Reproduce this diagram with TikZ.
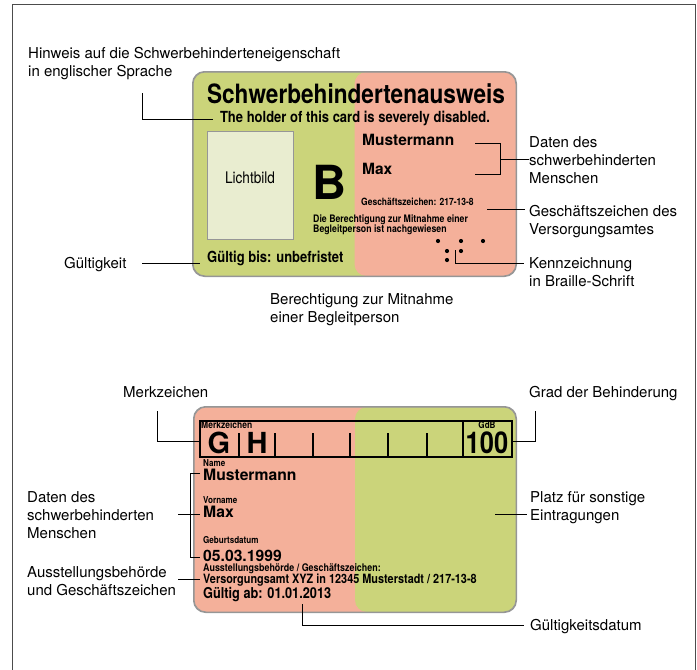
\documentclass[tikz,border=0pt]{standalone}
\usepackage{fontspec}
\setmainfont{TeX Gyre Heros}
\newfontfamily\cnd[FakeStretch=0.85]{TeX Gyre Heros}
\definecolor{cgreen}{RGB}{203,212,122}
\definecolor{cred}{RGB}{244,176,154}
\definecolor{cphoto}{RGB}{233,237,208}
\definecolor{cborder}{RGB}{150,150,150}
\begin{document}
\begin{tikzpicture}[x=1pt,y=-1pt,
  lbl/.style={font=\fontsize{15}{18}\selectfont, inner sep=0pt, align=left},
  ct/.style={inner sep=0pt, anchor=base west},
  conn/.style={draw=black, line width=1pt},
  card/.style={draw=cborder, line width=1pt, rounded corners=12pt, inner sep=0pt},
  frame/.style={draw=black!70, line width=1pt}]
\useasboundingbox (0,0) rectangle (697,670);
% outer frame
\coordinate (fbl) at (12,670);
\coordinate (ftl) at (12,4);
\coordinate (ftr) at (695,4);
\coordinate (fbr) at (695,670);
\draw[frame] (fbl) -- (ftl) -- (ftr) -- (fbr);

% ================= card 1 =================
\node[card, fill=cgreen, minimum width=323pt, minimum height=204pt,
  path picture={\fill[cred] (path picture bounding box.north) rectangle (path picture bounding box.south east);}]
  (card1) at (354.5,174) {};
\draw[card] (card1.north west) rectangle (card1.south east);
\node[ct, anchor=base, font=\cnd\bfseries\fontsize{26.6}{30}\selectfont] (title) at (356,103) {Schwerbehindertenausweis};
\node[ct, anchor=base, font=\cnd\bfseries\fontsize{15.3}{17}\selectfont] (holder) at (355,122) {The holder of this card is severely disabled.};
\node[draw=cborder, line width=1pt, fill=cphoto, minimum width=86pt, minimum height=108pt, inner sep=0pt] (photo) at (250,185) {};
\node[ct, anchor=base, font=\cnd\fontsize{16}{18}\selectfont] (photolbl) at (250,183) {Lichtbild};
\node[ct, font=\bfseries\fontsize{47}{50}\selectfont] (bigB) at (312,199) {B};
\node[ct, font=\bfseries\fontsize{15.5}{18}\selectfont] (name1) at (362,145) {Mustermann};
\node[ct, font=\bfseries\fontsize{15.5}{18}\selectfont] (vname1) at (362,174) {Max};
\node[ct, font=\cnd\bfseries\fontsize{10}{12}\selectfont] (gz1) at (361,205) {Geschäftszeichen: 217-13-8};
\node[inner sep=0pt, anchor=north west, align=left, font=\cnd\bfseries\fontsize{10.3}{10}\selectfont] (berecht) at (313,215) {Die Berechtigung zur Mitnahme einer\\Begleitperson ist nachgewiesen};
\node[ct, font=\cnd\bfseries\fontsize{15.3}{18}\selectfont] (gueltig1) at (207,262) {Gültig bis: unbefristet};
% braille dots
\foreach \p in {(438,241),(461,241),(483,241),(447,251),(461,251),(447,260)}
  \fill \p circle (2.1);

% labels card 1
\node[lbl, anchor=north west] (hinweis) at (28,47) {Hinweis auf die Schwerbehinderteneigenschaft\\in englischer Sprache};
\node[lbl, anchor=north west] (daten1) at (529,136) {Daten des\\schwerbehinderten\\Menschen};
\node[lbl, anchor=north west] (gzlbl) at (529,205) {Geschäftszeichen des\\Versorgungsamtes};
\node[lbl, anchor=north west] (braille) at (529,257) {Kennzeichnung\\in Braille-Schrift};
\node[lbl, anchor=base west] (gkeit) at (64,268) {Gültigkeit};
\node[lbl, anchor=north west] (begl) at (270,293) {Berechtigung zur Mitnahme\\einer Begleitperson};

% connectors card 1
\coordinate (h1) at (142,93);
\coordinate (h2) at (213,119);
\draw[conn] (h1) |- (h2);
\coordinate (b1) at (475,143);
\coordinate (b2) at (500,143);
\coordinate (b3) at (500,174);
\coordinate (b4) at (475,174);
\draw[conn] (b1) -- (b2) -- (b3) -- (b4);
\coordinate (bm) at (500,159);
\draw[conn] (bm) -- (bm -| daten1.west);
\coordinate (g1) at (487,209);
\draw[conn] (g1) -- ([xshift=-4pt]g1 -| gzlbl.west);
\coordinate (br) at (455,250);
\coordinate (br2) at (524,263);
\draw[conn] (br) |- (br2);
\coordinate (gk1) at (142,263);
\coordinate (gk2) at (200,263);
\draw[conn] (gk1) -- (gk2);

% ================= card 2 =================
\node[card, fill=cred, minimum width=322pt, minimum height=205pt,
  path picture={\fill[cgreen] (path picture bounding box.north) rectangle (path picture bounding box.south east);}]
  (card2) at (355,509.5) {};
\draw[card] (card2.north west) rectangle (card2.south east);
% Merkzeichen box
\node[draw=black, line width=1.1pt, minimum width=312pt, minimum height=36pt, inner sep=0pt] (mzbox) at (356,439) {};
\coordinate (gdbT) at (463,421);
\coordinate (gdbB) at (463,457);
\draw[line width=1.1pt] (gdbT) -- (gdbB);
\foreach \x in {239,275,313,350,388,427}
  \draw[line width=1.3pt] (\x,433) -- (\x,457);
\node[ct, font=\cnd\bfseries\fontsize{10}{10}\selectfont] (mzt) at (201,428) {Merkzeichen};
\node[ct, anchor=base, font=\cnd\bfseries\fontsize{9.5}{10}\selectfont] (gdbt) at (487,428) {GdB};
\node[ct, anchor=base, font=\bfseries\fontsize{29}{30}\selectfont] (mG) at (219,453) {G};
\node[ct, anchor=base, font=\bfseries\fontsize{29}{30}\selectfont] (mH) at (257,453) {H};
\node[ct, anchor=base, font=\cnd\bfseries\fontsize{30}{30}\selectfont] (gdb) at (487,453) {100};
\node[ct, font=\cnd\bfseries\fontsize{9.5}{10}\selectfont] (namet) at (203,466) {Name};
\node[ct, font=\bfseries\fontsize{15.7}{18}\selectfont] (name2) at (203,480) {Mustermann};
\node[ct, font=\cnd\bfseries\fontsize{9.5}{10}\selectfont] (vnamet) at (203,503) {Vorname};
\node[ct, font=\bfseries\fontsize{15.7}{18}\selectfont] (vname2) at (203,517) {Max};
\node[ct, font=\cnd\bfseries\fontsize{9.5}{10}\selectfont] (gebt) at (203,543) {Geburtsdatum};
\node[ct, font=\bfseries\fontsize{15.7}{18}\selectfont] (geb) at (203,561) {05.03.1999};
\node[ct, font=\cnd\bfseries\fontsize{10.5}{12}\selectfont] (ausstt) at (203,571.5) {Ausstellungsbehörde / Geschäftszeichen:};
\node[ct, font=\cnd\bfseries\fontsize{12.8}{15}\selectfont] (ausst) at (203,583) {Versorgungsamt XYZ in 12345 Musterstadt / 217-13-8};
\node[ct, font=\cnd\bfseries\fontsize{15}{18}\selectfont] (gab) at (203,598) {Gültig ab: 01.01.2013};

% labels card 2
\node[lbl, anchor=base west] (mzlbl) at (123,397) {Merkzeichen};
\node[lbl, anchor=base west] (gradlbl) at (529,397) {Grad der Behinderung};
\node[lbl, anchor=north west] (daten2) at (27,491) {Daten des\\schwerbehinderten\\Menschen};
\node[lbl, anchor=north west] (ausstlbl) at (27,566) {Ausstellungsbehörde\\und Geschäftszeichen};
\node[lbl, anchor=north west] (platz) at (530,491) {Platz für sonstige\\Eintragungen};
\node[lbl, anchor=base west] (gdatum) at (530,630) {Gültigkeitsdatum};

% connectors card 2
\coordinate (m1) at (157,411);
\coordinate (m2) at (200,441);
\draw[conn] (m1) |- (m2);
\coordinate (r1) at (512,441);
\coordinate (r2) at (535,411);
\draw[conn] (r1) -| (r2);
\coordinate (d1) at (200,473);
\coordinate (d2) at (190,473);
\coordinate (d3) at (190,557);
\coordinate (d4) at (200,557);
\draw[conn] (d1) -- (d2) -- (d3) -- (d4);
\coordinate (dm1) at (178,514);
\coordinate (dm2) at (200,514);
\draw[conn] (dm1) -- (dm2);
\coordinate (a1) at (178,579);
\coordinate (a2) at (200,579);
\draw[conn] (a1) -- (a2);
\coordinate (p1) at (495,514);
\coordinate (p2) at (527,514);
\draw[conn] (p1) -- (p2);
\coordinate (v1) at (302,604);
\coordinate (v2) at (524,625);
\draw[conn] (v1) |- (v2);
\end{tikzpicture}
\end{document}
